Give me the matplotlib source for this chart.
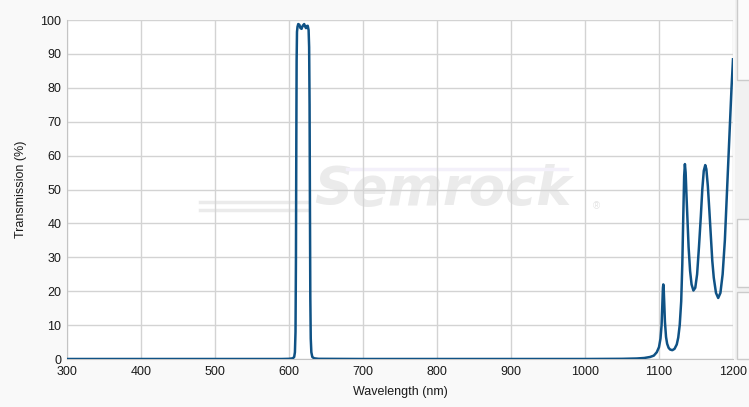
import matplotlib.pyplot as plt
from matplotlib.patches import Rectangle

plt.rcParams['font.family'] = ['Liberation Sans', 'DejaVu Sans']

# wavelength (nm) / transmission (%)
wavelength = [300, 590, 600, 605, 607, 608, 608.8, 609.4, 609.9, 610.3, 610.8, 611.5,
              612.5, 614, 615.5, 617, 618.5, 620.5, 622, 623, 624, 625.3, 626.5, 627.2,
              627.8, 628.3, 628.8, 629.4, 630.2, 631.5, 634, 640, 700,
              1000, 1050, 1070, 1080, 1088, 1093, 1097, 1100, 1102, 1103.5, 1104.5,
              1105.3, 1105.8, 1106.3, 1107, 1108, 1109.5, 1111, 1113, 1115, 1118, 1121,
              1124, 1126, 1128, 1130, 1131.5, 1132.8, 1134, 1135, 1136, 1137, 1138.5,
              1140, 1142, 1144, 1146.5, 1149, 1151.5, 1154, 1156.5, 1158.5, 1160.5,
              1162.5, 1164, 1166, 1168, 1170, 1172, 1174, 1177, 1180, 1183, 1186, 1189,
              1192, 1195, 1198, 1200]
transmission = [0, 0, 0.05, 0.2, 0.6, 2, 8, 30, 65, 88, 96.5, 98,
                98.8, 98.6, 97.6, 97.4, 98.3, 98.8, 98.0, 97.6, 98.2, 98.3, 97, 92,
                75, 45, 18, 6, 2, 0.6, 0.2, 0.05, 0,
                0, 0.05, 0.15, 0.3, 0.6, 1.0, 2.0, 3.5, 6, 10, 16,
                21, 22, 21, 17, 11, 6.5, 4.5, 3.3, 2.8, 2.6, 3.0,
                4.3, 6.3, 10, 17, 28, 42, 54, 57.5, 55, 49, 41,
                33, 26, 22, 20.2, 21, 25, 33, 42, 50, 55.5,
                57.2, 56, 51, 44, 36.5, 29, 24, 19.5, 18, 19.5, 25, 35,
                50, 65, 80, 88.4]

fig = plt.figure(figsize=(7.49, 4.07), dpi=100, facecolor='#f9f9f9')
ax = fig.add_axes([67 / 749, 1 - 359 / 407, 666 / 749, 339 / 407])

# watermark
ax.text(0.565, 0.5, 'Semrock', transform=ax.transAxes, fontsize=38, fontweight='bold',
        fontstyle='oblique', family='DejaVu Sans', color='#ebebeb',
        ha='center', va='center', zorder=0)
for yy in (0.44, 0.462):
    ax.plot([0.2, 0.36], [yy, yy], transform=ax.transAxes, color='#ebebeb',
            lw=2.5, zorder=0)
ax.plot([0.42, 0.75], [0.56, 0.56], transform=ax.transAxes, color='#f3f0fa',
        lw=2.5, zorder=0)
ax.text(0.795, 0.45, '®', transform=ax.transAxes, fontsize=7, color='#e4e4e4',
        ha='center', va='center', zorder=0)

ax.plot(wavelength, transmission, color='#0f5285', lw=1.8, zorder=3)

ax.set_xlim(300, 1200)
ax.set_ylim(0, 100)
ax.set_xticks(range(300, 1201, 100))
ax.set_yticks(range(0, 101, 10))
ax.grid(True, color='#d3d3d3', lw=1)
ax.set_axisbelow(True)
ax.tick_params(length=0, labelsize=9, colors='#1a1a1a')
ax.tick_params(axis='y', pad=4)
ax.tick_params(axis='x', pad=5)
for s in ('top', 'right'):
    ax.spines[s].set_visible(False)
for s in ('left', 'bottom'):
    ax.spines[s].set_color('#c4c4c4')

ax.set_xlabel('Wavelength (nm)', fontsize=9, color='#1a1a1a', labelpad=6)
ax.set_ylabel('Transmission (%)', fontsize=9, color='#1a1a1a', labelpad=10)

# side panels
fig.patches.append(Rectangle((735 / 749, 1 - 360 / 407), 14 / 749, 360 / 407,
                             transform=fig.transFigure, facecolor='#f1f1f1',
                             edgecolor='none', zorder=0))
for top, bot in ((-10, 80), (219, 287), (292, 359)):
    fig.patches.append(Rectangle((737 / 749, 1 - bot / 407), 20 / 749, (bot - top) / 407,
                                 transform=fig.transFigure, facecolor='#fbfbfb',
                                 edgecolor='#cbcbcb', lw=1, zorder=0))

fig.savefig('out.png', dpi=100, facecolor=fig.get_facecolor())
